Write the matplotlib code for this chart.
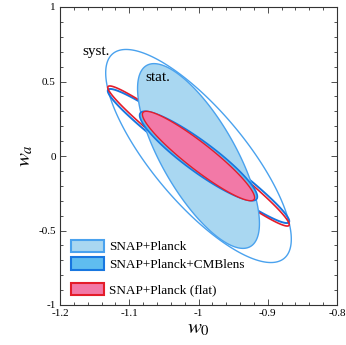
import numpy as np
import matplotlib
matplotlib.use("Agg")
import matplotlib.pyplot as plt
from matplotlib.patches import Polygon, Patch
from matplotlib.ticker import MultipleLocator

plt.rcParams['font.family'] = ['Liberation Serif', 'DejaVu Serif']
plt.rcParams['mathtext.fontset'] = 'stix'

# contour ellipses: center (w0, wa), half-extent in w0, half-extent in wa, correlation
center = (-1.0, 0.0)
planck_stat = dict(hx=0.088, hy=0.62, rho=-0.73)
planck_syst = dict(hx=0.134, hy=0.715, rho=-0.78)
lens_stat = dict(hx=0.085, hy=0.30, rho=-0.91)
lens_syst = dict(hx=0.131, hy=0.45, rho=-0.972)
flat_stat = dict(hx=0.081, hy=0.30, rho=-0.93)
flat_syst = dict(hx=0.131, hy=0.47, rho=-0.978)

labels = ["SNAP+Planck", "SNAP+Planck+CMBlens", "SNAP+Planck (flat)"]
c_light_fill, c_light_edge = "#a9d7f1", "#4aa2ee"
c_lens_fill, c_lens_edge = "#5fbdf0", "#1877e0"
c_flat_fill, c_flat_edge = "#f279a7", "#e41d2b"


def ell(p, n=400):
    t = np.linspace(0, 2 * np.pi, n)
    x = center[0] + p['hx'] * np.cos(t)
    y = center[1] + p['hy'] * (p['rho'] * np.cos(t) + np.sqrt(1 - p['rho'] ** 2) * np.sin(t))
    return np.column_stack([x, y])


fig = plt.figure(figsize=(3.46, 3.45), dpi=100)
ax = fig.add_axes([60 / 346, 1 - 305 / 345, 277 / 346, 298 / 345])

ax.add_patch(Polygon(ell(planck_syst), closed=True, fill=False, ec=c_light_edge, lw=1.0, zorder=1))
ax.add_patch(Polygon(ell(lens_syst), closed=True, fill=False, ec=c_lens_edge, lw=1.4, zorder=1))
ax.add_patch(Polygon(ell(flat_syst), closed=True, fill=False, ec=c_flat_edge, lw=1.2, zorder=1.1))
ax.add_patch(Polygon(ell(planck_stat), closed=True, fc=c_light_fill, ec=c_light_edge, lw=1.0, zorder=2))
ax.add_patch(Polygon(ell(lens_stat), closed=True, fc=c_lens_fill, ec=c_lens_edge, lw=1.2, zorder=3))
ax.add_patch(Polygon(ell(flat_stat), closed=True, fc=c_flat_fill, ec=c_flat_edge, lw=1.0, zorder=4))

ax.text(-1.168, 0.70, "syst.", fontsize=11, ha='left', va='center')
ax.text(-1.076, 0.53, "stat.", fontsize=11, ha='left', va='center')

ax.set_xlim(-1.2, -0.8)
ax.set_ylim(-1, 1)
ax.xaxis.set_minor_locator(MultipleLocator(0.02))
ax.yaxis.set_minor_locator(MultipleLocator(0.1))
ax.set_xticks([-1.2, -1.1, -1.0, -0.9, -0.8])
ax.set_xticklabels(["-1.2", "-1.1", "-1", "-0.9", "-0.8"])
ax.set_yticks([-1, -0.5, 0, 0.5, 1])
ax.set_yticklabels(["-1", "-0.5", "0", "0.5", "1"])
ax.tick_params(which='both', direction='in', top=True, right=True, labelsize=8, width=0.6, color='#333333')
ax.tick_params(which='major', length=4, pad=3)
ax.tick_params(which='minor', length=2.5)
for s in ax.spines.values():
    s.set_linewidth(0.8)
    s.set_color('#333333')

ax.set_xlabel(r"$w_0$", fontsize=15, labelpad=1)
ax.set_ylabel(r"$w_a$", fontsize=15, labelpad=2)

h1 = [Patch(fc=c_light_fill, ec=c_light_edge, lw=1.5),
      Patch(fc=c_lens_fill, ec=c_lens_edge, lw=1.5)]
h2 = [Patch(fc=c_flat_fill, ec=c_flat_edge, lw=1.5)]
leg1 = ax.legend(h1, labels[:2], loc='lower left', bbox_to_anchor=(0.035, 0.11), frameon=False,
                 fontsize=9.5, handlelength=2.5, handleheight=1.05, labelspacing=0.3,
                 handletextpad=0.4, borderpad=0.1, borderaxespad=0)
ax.add_artist(leg1)
ax.legend(h2, labels[2:], loc='lower left', bbox_to_anchor=(0.035, 0.025), frameon=False,
          fontsize=9.5, handlelength=2.5, handleheight=1.05, handletextpad=0.4,
          borderpad=0.1, borderaxespad=0)

fig.savefig("out.png", dpi=100)
